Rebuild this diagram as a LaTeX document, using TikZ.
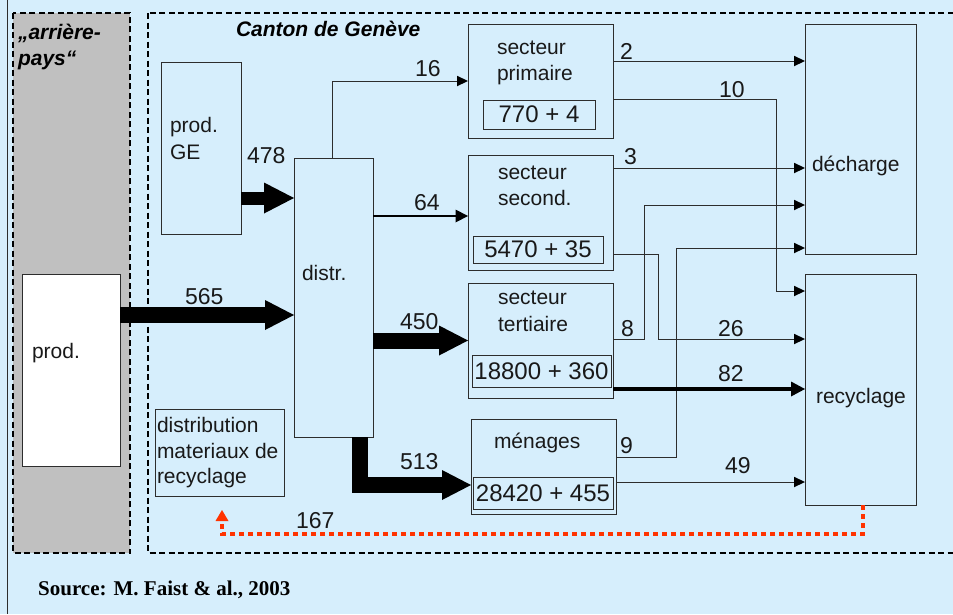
\documentclass[tikz,border=0pt]{standalone}
\usepackage{fontspec}
\setmainfont{Liberation Sans}
\newfontfamily\srcfont{Liberation Serif}
\usetikzlibrary{arrows.meta,calc}
\definecolor{bgblue}{RGB}{214,238,252}
\definecolor{grayzone}{RGB}{192,192,192}
\definecolor{edge}{RGB}{45,45,45}
\definecolor{redflow}{RGB}{255,51,0}
\begin{document}
\begin{tikzpicture}[x=1pt,y=-1pt,
  box/.style={draw=edge,line width=1pt,fill=bgblue,rectangle,inner sep=0pt,outer sep=0pt,anchor=north west},
  valbox/.style={box,font=\fontsize{24}{28}\selectfont,text=black!90},
  txt/.style={anchor=base west,inner sep=0pt,outer sep=0pt,font=\fontsize{21}{25}\selectfont,text=black!90},
  num/.style={anchor=base west,inner sep=0pt,outer sep=0pt,font=\fontsize{23}{27}\selectfont,text=black!90},
  boldit/.style={anchor=base west,inner sep=0pt,outer sep=0pt,font=\fontsize{21}{25}\selectfont\bfseries\itshape},
  zone/.style={draw=black,line width=1.5pt,dash pattern=on 6pt off 3.5pt},
  arr/.style={draw=edge,line width=1pt,-{Triangle[length=11pt,width=10.5pt,line width=0pt,fill=black]}},
  arrmid/.style={draw=black,line width=2pt,-{Triangle[length=12.5pt,width=13pt,line width=0pt]}},
  arrbold/.style={draw=black,line width=3.4pt,-{Triangle[length=14pt,width=15pt,line width=0pt]}},
  fat/.style={draw=black,line width=16pt,line join=miter,-{Triangle[length=29pt,width=30pt,line width=0pt]}},
  fatge/.style={draw=black,line width=13pt,-{Triangle[length=30pt,width=31pt,line width=0pt]}},
  recflow/.style={draw=redflow,line width=4.5pt,dash pattern=on 5pt off 4pt,-{Triangle[length=11pt,width=13pt,line width=0pt]}}
]
\useasboundingbox (0,0) rectangle (953,614);
\fill[bgblue] (0,0) rectangle (953,614);
\draw[edge,line width=1pt] (7,0) -- (7,614);
% zones
\draw[zone,fill=grayzone] (13,13) rectangle (130,553);
\draw[zone] (148,13) rectangle (975,553);
\node[boldit] (ap1) at (18,39) {„arrière-};
\node[boldit] (ap2) at (18,65) {pays“};
\node[boldit] (canton) at (236,36) {Canton de Genève};
% boxes
\node[box,fill=white,minimum width=98pt,minimum height=192pt] (prod) at (22,274) {};
\node[box,minimum width=80pt,minimum height=172pt] (prodge) at (161,62) {};
\node[box,minimum width=79pt,minimum height=279pt] (distr) at (294,158) {};
\node[box,minimum width=145pt,minimum height=114pt] (prim) at (468,24) {};
\node[valbox,minimum width=112pt,minimum height=29pt] (primv) at (483,100) {770 + 4};
\node[box,minimum width=145pt,minimum height=115pt] (sec) at (468,155) {};
\node[valbox,minimum width=130pt,minimum height=27pt] (secv) at (473,236) {5470 + 35};
\node[box,minimum width=145pt,minimum height=115pt] (tert) at (468,283) {};
\node[valbox,minimum width=139pt,minimum height=32pt] (tertv) at (472,355) {18800 + 360};
\node[box,minimum width=145pt,minimum height=95pt] (men) at (471,419) {};
\node[valbox,minimum width=140pt,minimum height=32pt] (menv) at (473,477) {28420 + 455};
\node[box,minimum width=111pt,minimum height=230pt] (dech) at (805,24) {};
\node[box,minimum width=111pt,minimum height=231pt] (rec) at (805,274) {};
\node[box,minimum width=129pt,minimum height=87pt] (dist) at (155,409) {};
% box texts
\node[txt] (tprod) at (32,358) {prod.};
\node[txt] (tge1) at (170,132) {prod.};
\node[txt] (tge2) at (170,159) {GE};
\node[txt] (tdistr) at (302,280) {distr.};
\node[txt] (tp1) at (497,54) {secteur};
\node[txt] (tp2) at (497,80) {primaire};
\node[txt] (ts1) at (498,179) {secteur};
\node[txt] (ts2) at (498,205) {second.};
\node[txt] (tt1) at (498,304) {secteur};
\node[txt] (tt2) at (498,331) {tertiaire};
\node[txt] (tm) at (494,448) {ménages};
\node[txt] (tdech) at (812,171) {décharge};
\node[txt] (trec) at (816,403) {recyclage};
\node[txt] (td1) at (157,432) {distribution};
\node[txt] (td2) at (157,458) {materiaux de};
\node[txt] (td3) at (157,483) {recyclage};
% thick flows
\coordinate (d565) at ([yshift=-17.5pt]distr.west);
\draw[fat] (prod.east |- d565) -- (d565);
\coordinate (g478) at ([yshift=-50pt]prodge.east);
\draw[fatge] (g478) -- (distr.west |- g478);
\draw[fat] (distr.east |- tert.west) -- (tert.west);
\coordinate (m513) at ([yshift=-18.5pt]men.west);
\draw[fat] ([xshift=26.5pt]distr.south) |- (m513);
% thin flows from distr
\draw[arr] ([xshift=-1.5pt]distr.north) |- (prim.west);
\coordinate (s64) at ([yshift=-3.5pt]sec.west);
\draw[arrmid] (distr.east |- s64) -- (s64);
% outputs
\coordinate (c2) at (0,61);
\draw[arr] (prim.east |- c2) -- (dech.west |- c2);
\coordinate (c10a) at (776,99);
\coordinate (c10b) at (776,291);
\draw[arr] (prim.east |- c10a) -- (c10a) -- (c10b) -- (rec.west |- c10b);
\coordinate (c3) at (0,168);
\draw[arr] (sec.east |- c3) -- (dech.west |- c3);
\coordinate (c8a) at (644,339);
\coordinate (c8b) at (644,205);
\draw[arr] (tert.east |- c8a) -- (c8a) -- (c8b) -- (dech.west |- c8b);
\coordinate (c26a) at (658,254);
\coordinate (c26b) at (658,339);
\draw[arr] (sec.east |- c26a) -- (c26a) -- (c26b) -- (rec.west |- c26b);
\coordinate (c9a) at (676,457);
\coordinate (c9b) at (676,248);
\draw[arr] (men.east |- c9a) -- (c9a) -- (c9b) -- (dech.west |- c9b);
\coordinate (c82) at (0,389);
\draw[arrbold] (tert.east |- c82) -- (rec.west |- c82);
\coordinate (c49) at (0,482);
\draw[arr] (men.east |- c49) -- (rec.west |- c49);
% recycling return
\coordinate (rc1) at (863,534);
\coordinate (rc2) at (222,534);
\draw[recflow] ([xshift=2.5pt]rec.south) -- (rc1) -- (rc2) -- ([xshift=2.5pt,yshift=-14pt]dist.south);
% numbers
\node[num] (n16) at (415,76) {16};
\node[num] (n64) at (414,210) {64};
\node[num] (n478) at (247,163) {478};
\node[num] (n565) at (185,304) {565};
\node[num] (n450) at (400,329) {450};
\node[num] (n513) at (400,469) {513};
\node[num] (n167) at (296,528) {167};
\node[num] (n2) at (620,59) {2};
\node[num] (n10) at (719,97) {10};
\node[num] (n3) at (624,164) {3};
\node[num] (n8) at (621,336) {8};
\node[num] (n26) at (718,336) {26};
\node[num] (n82) at (718,381) {82};
\node[num] (n9) at (620,453) {9};
\node[num] (n49) at (725,473) {49};
% source
\node[anchor=base west,inner sep=0pt,font=\srcfont\fontsize{21}{25}\selectfont\bfseries] (src) at (38,595) {Source: M. Faist \& al., 2003};
\end{tikzpicture}
\end{document}
